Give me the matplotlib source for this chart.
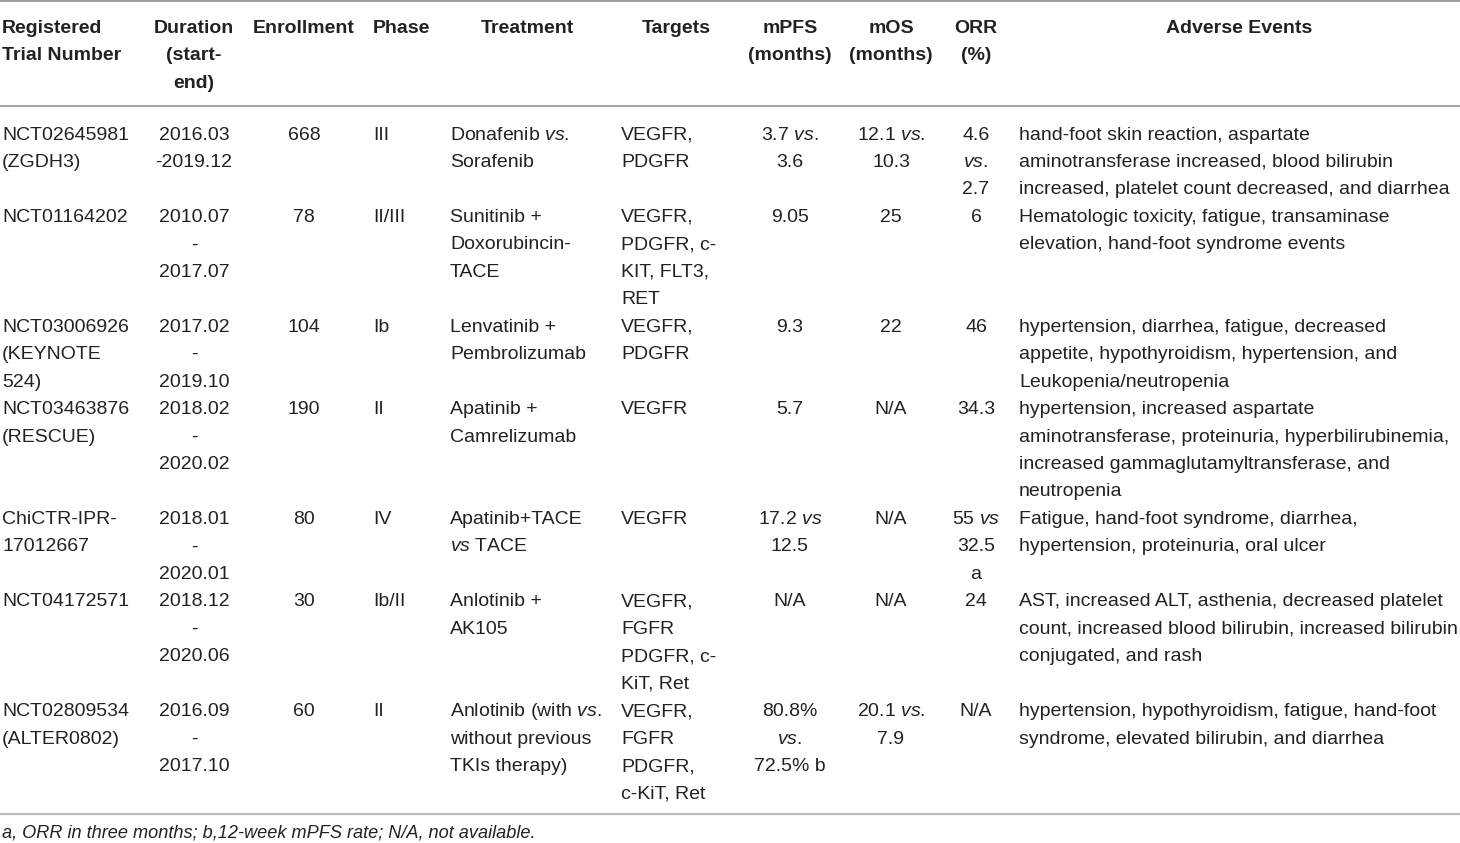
import matplotlib
matplotlib.use("Agg")
import matplotlib.pyplot as plt

plt.rcParams['font.family'] = ['Liberation Sans', 'DejaVu Sans']
plt.rcParams['mathtext.fontset'] = 'custom'
plt.rcParams['mathtext.rm'] = 'Liberation Sans'
plt.rcParams['mathtext.it'] = 'Liberation Sans:italic'
plt.rcParams['mathtext.bf'] = 'Liberation Sans:bold'

VS = r'$\mathit{vs.}$'
VS0 = r'$\mathit{vs}$'

headers = [
    ["Registered", "Trial Number"],
    ["Duration", "(start-", "end)"],
    ["Enrollment"],
    ["Phase"],
    ["Treatment"],
    ["Targets"],
    ["mPFS", "(months)"],
    ["mOS", "(months)"],
    ["ORR", "(%)"],
    ["Adverse Events"],
]

trial_numbers = [
    ["NCT02645981", "(ZGDH3)"],
    ["NCT01164202"],
    ["NCT03006926", "(KEYNOTE", "524)"],
    ["NCT03463876", "(RESCUE)"],
    ["ChiCTR-IPR-", "17012667"],
    ["NCT04172571"],
    ["NCT02809534", "(ALTER0802)"],
]
durations = [
    ["2016.03", "-2019.12"],
    ["2010.07", "-", "2017.07"],
    ["2017.02", "-", "2019.10"],
    ["2018.02", "-", "2020.02"],
    ["2018.01", "-", "2020.01"],
    ["2018.12", "-", "2020.06"],
    ["2016.09", "-", "2017.10"],
]
enrollments = [["668"], ["78"], ["104"], ["190"], ["80"], ["30"], ["60"]]
phases = [["III"], ["II/III"], ["Ib"], ["II"], ["IV"], ["Ib/II"], ["II"]]
treatments = [
    ["Donafenib " + VS, "Sorafenib"],
    ["Sunitinib +", "Doxorubincin-", "TACE"],
    ["Lenvatinib +", "Pembrolizumab"],
    ["Apatinib +", "Camrelizumab"],
    ["Apatinib+TACE", VS0 + " TACE"],
    ["Anlotinib +", "AK105"],
    ["Anlotinib (with " + VS, "without previous", "TKIs therapy)"],
]
targets = [
    ["VEGFR,", "PDGFR"],
    ["VEGFR,", "PDGFR, c-", "KIT, FLT3,", "RET"],
    ["VEGFR,", "PDGFR"],
    ["VEGFR"],
    ["VEGFR"],
    ["VEGFR,", "FGFR", "PDGFR, c-", "KiT, Ret"],
    ["VEGFR,", "FGFR", "PDGFR,", "c-KiT, Ret"],
]
mpfs = [
    ["3.7 " + VS, "3.6"],
    ["9.05"],
    ["9.3"],
    ["5.7"],
    ["17.2 " + VS0, "12.5"],
    ["N/A"],
    ["80.8%", VS, "72.5% b"],
]
mos = [
    ["12.1 " + VS, "10.3"],
    ["25"],
    ["22"],
    ["N/A"],
    ["N/A"],
    ["N/A"],
    ["20.1 " + VS, "7.9"],
]
orr = [
    ["4.6", VS, "2.7"],
    ["6"],
    ["46"],
    ["34.3"],
    ["55 " + VS0, "32.5", "a"],
    ["24"],
    ["N/A"],
]
adverse = [
    ["hand-foot skin reaction, aspartate", "aminotransferase increased, blood bilirubin",
     "increased, platelet count decreased, and diarrhea"],
    ["Hematologic toxicity, fatigue, transaminase", "elevation, hand-foot syndrome events"],
    ["hypertension, diarrhea, fatigue, decreased", "appetite, hypothyroidism, hypertension, and",
     "Leukopenia/neutropenia"],
    ["hypertension, increased aspartate", "aminotransferase, proteinuria, hyperbilirubinemia,",
     "increased gammaglutamyltransferase, and", "neutropenia"],
    ["Fatigue, hand-foot syndrome, diarrhea,", "hypertension, proteinuria, oral ulcer"],
    ["AST, increased ALT, asthenia, decreased platelet", "count, increased blood bilirubin, increased bilirubin",
     "conjugated, and rash"],
    ["hypertension, hypothyroidism, fatigue, hand-foot", "syndrome, elevated bilirubin, and diarrhea"],
]
footnote = "a, ORR in three months; b,12-week mPFS rate; N/A, not available."

columns = [trial_numbers, durations, enrollments, phases, treatments, targets, mpfs, mos, orr, adverse]

# layout (pixels)
W, H = 1460, 843
col_x = [2, 194, 304, 373, 450, 621, 790, 891, 976, 1019]
col_ha = ['left', 'center', 'center', 'left', 'left', 'left', 'center', 'center', 'center', 'left']
head_x = [2, 194, 304, 373, 527, 676, 790, 891, 976, 1239]
head_ha = ['left', 'center', 'center', 'left', 'center', 'center', 'center', 'center', 'center', 'center']
FS = 14.0
head_base = 33.0
body_base = 139.5
step = 27.46

fig = plt.figure(figsize=(W / 100, H / 100), dpi=100)
ax = fig.add_axes([0, 0, 1, 1])
ax.set_xlim(0, W)
ax.set_ylim(H, 0)
ax.axis('off')

ax.axhline(0.8, color='#8c8c8c', lw=1.2)
ax.axhline(105.5, color='#9a9a9a', lw=1.3)
ax.axhline(814, color='#bdbdbd', lw=1.6)

for hx, ha, lines in zip(head_x, head_ha, headers):
    for k, t in enumerate(lines):
        ax.text(hx, head_base + k * step, t, ha=ha, va='baseline', fontsize=FS,
                fontweight='bold', color='#222222')

line_idx = 0
nrows = len(trial_numbers)
for r in range(nrows):
    nlines = max(len(col[r]) for col in columns)
    for cx, ha, col in zip(col_x, col_ha, columns):
        for k, t in enumerate(col[r]):
            ax.text(cx, body_base + (line_idx + k) * step, t, ha=ha, va='baseline',
                    fontsize=FS, color='#222222')
    line_idx += nlines

ax.text(2, 838, footnote, ha='left', va='baseline', fontsize=FS * 0.93,
        fontstyle='italic', color='#222222')

fig.savefig("out.png", dpi=100)
